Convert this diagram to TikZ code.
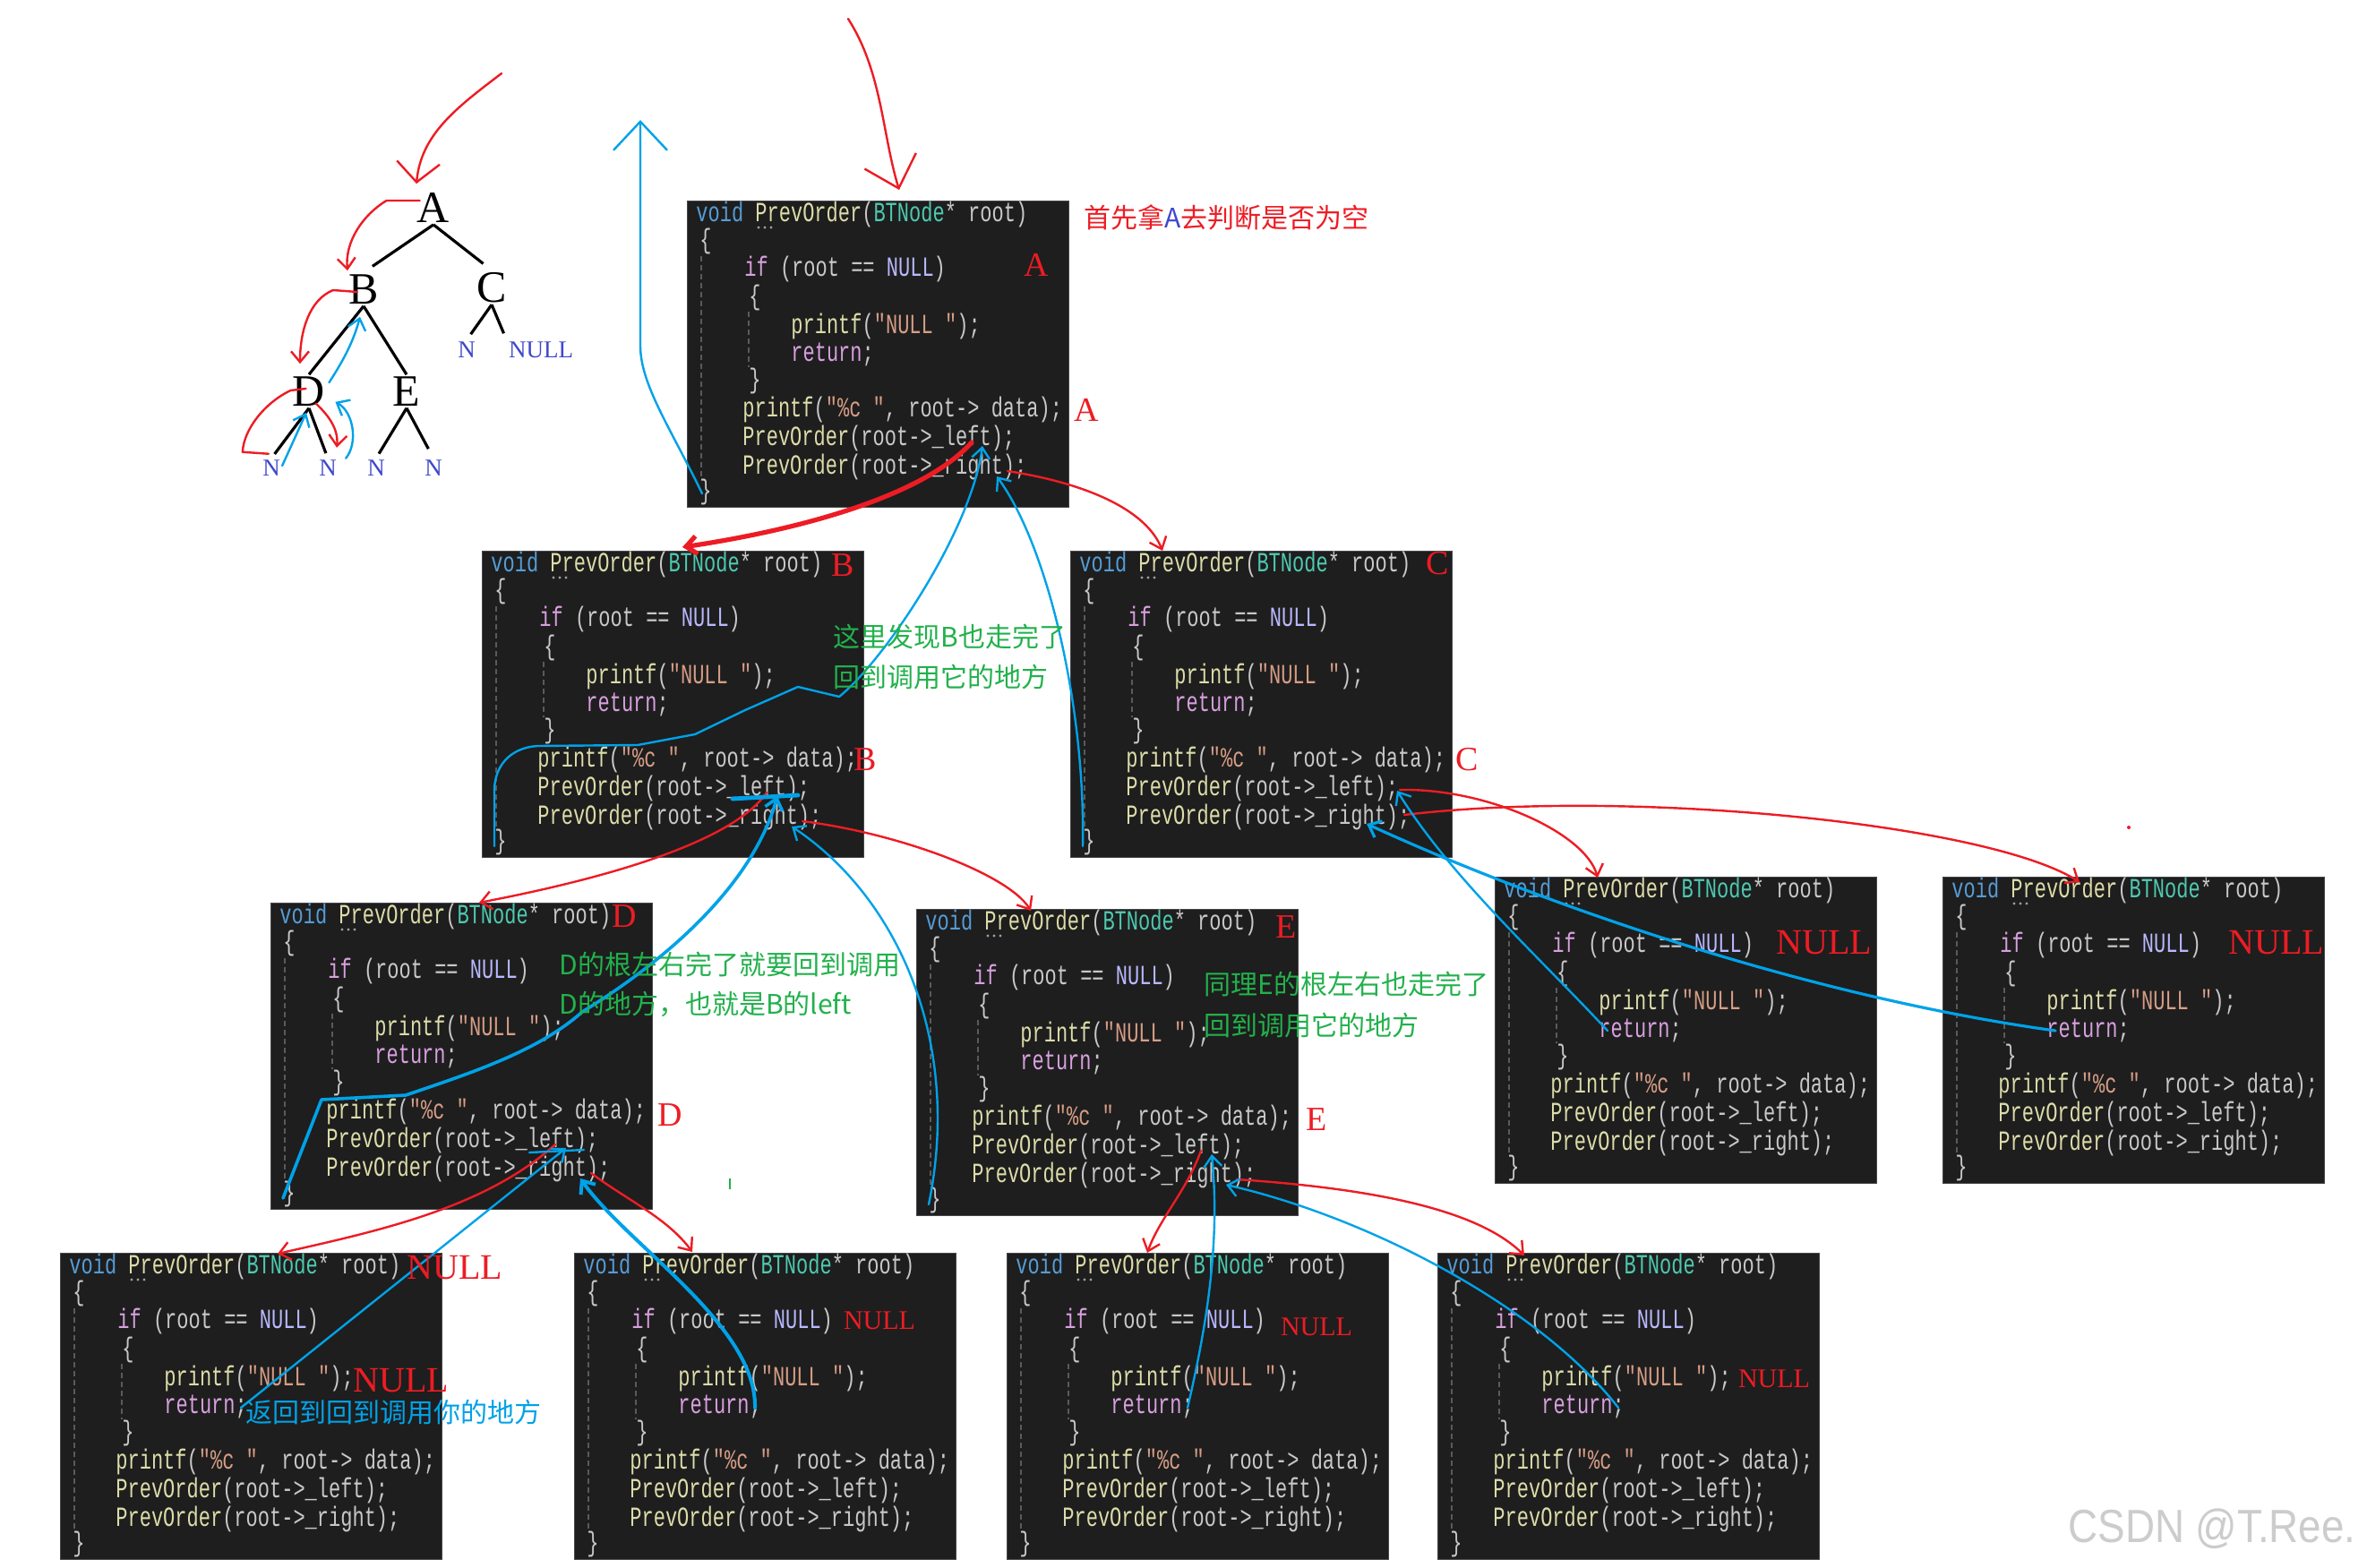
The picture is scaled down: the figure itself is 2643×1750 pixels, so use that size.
\documentclass[tikz,border=0pt]{standalone}
\usepackage{fontspec}
\setmainfont{Liberation Serif}
\newfontfamily\codefont[FakeStretch=0.71]{Liberation Mono}
\newfontfamily\cjk{Noto Sans CJK SC}
\newfontfamily\wmfont[FakeStretch=0.88]{Liberation Sans}
\usetikzlibrary{arrows.meta,calc}
\definecolor{codebg}{HTML}{1E1E1E}
\definecolor{boxedge}{HTML}{46464C}
\definecolor{guidegray}{HTML}{5A5A5A}
\definecolor{kwblue}{HTML}{569CD6}
\definecolor{fnyel}{HTML}{DCDCAA}
\definecolor{tyteal}{HTML}{4EC9B0}
\definecolor{plaintx}{HTML}{C8C8C8}
\definecolor{ctlpur}{HTML}{D8A0DF}
\definecolor{macnull}{HTML}{B8B8FF}
\definecolor{strbrn}{HTML}{D69D85}
\definecolor{penred}{HTML}{ED1C24}
\definecolor{penblue}{HTML}{00A2E8}
\definecolor{pengreen}{HTML}{22B14C}
\definecolor{inkblue}{HTML}{3F48CC}

% code lines of one call frame
\newcommand{\lnHead}{\textcolor{kwblue}{void} \textcolor{fnyel}{PrevOrder}(\textcolor{tyteal}{BTNode}* root)}
\newcommand{\lnIf}{\textcolor{ctlpur}{if} (root == \textcolor{macnull}{NULL})}
\newcommand{\lnNull}{\textcolor{fnyel}{printf}(\textcolor{strbrn}{"NULL "});}
\newcommand{\lnRet}{\textcolor{ctlpur}{return};}
\newcommand{\lnData}{\textcolor{fnyel}{printf}(\textcolor{strbrn}{"\%c "}, root-> data);}
\newcommand{\lnLeft}{\textcolor{fnyel}{PrevOrder}(root->\_left);}
\newcommand{\lnRight}{\textcolor{fnyel}{PrevOrder}(root->\_right);}

% one code box: name, x, y (top left corner, px)
\newcommand{\codebox}[3]{%
 \node[codebg] (#1) at (#2,#3) {};
 \begin{scope}[shift={(#1.north west)}]
  \draw[guide] (16,62) -- (16,312);
  \draw[guide] (69,124) -- (69,186);
  \foreach \dx in {80,87,94} \fill[gray!75] (\dx,30) circle (.8pt);
  \node[codeline] at (10,15) {\lnHead};
  \node[codeline] at (14,45) {\{};
  \node[codeline] at (64,76) {\lnIf};
  \node[codeline] at (69,108) {\{};
  \node[codeline] at (116,140) {\lnNull};
  \node[codeline] at (116,172) {\lnRet};
  \node[codeline] at (69,201) {\}};
  \node[codeline] at (62,233) {\lnData};
  \node[codeline] at (62,265) {\lnLeft};
  \node[codeline] at (62,297) {\lnRight};
  \node[codeline] at (14,325) {\}};
  \coordinate (#1-L) at (318,270);
  \coordinate (#1-Lb) at (330,274);
  \coordinate (#1-R) at (358,302);
  \coordinate (#1-Rb) at (346,308);
  \coordinate (#1-retS) at (126,172);
  \coordinate (#1-retE) at (202,173);
  \coordinate (#1-bl) at (14,330);
 \end{scope}}

\begin{document}
\begin{tikzpicture}[x=.5pt,y=-.5pt,
 codebg/.style={anchor=north west,fill=codebg,draw=boxedge,line width=.6pt,minimum width=213pt,minimum height=171pt,inner sep=0pt},
 codeline/.style={anchor=west,inner sep=0pt,text=plaintx,font=\fontsize{15.5}{16}\codefont},
 guide/.style={draw=guidegray,line width=.6pt,dash pattern=on 3pt off 2pt},
 penR/.style={draw=penred,line width=1.2pt,line cap=round,line join=round},
 penB/.style={draw=penblue,line width=1.2pt,line cap=round,line join=round},
 tip/.style={-{Straight Barb[length=6pt,width=10pt]}},
 midtip/.style={-{Straight Barb[length=11pt,width=24pt]}},
 bigtip/.style={-{Straight Barb[length=16pt,width=30pt]}},
 redmark/.style={text=penred,inner sep=0pt,font=\fontsize{19}{19}\selectfont},
 nullbig/.style={text=penred,inner sep=0pt,font=\fontsize{20}{20}\selectfont},
 nullsmall/.style={text=penred,inner sep=0pt,font=\fontsize{15}{15}\selectfont},
 note/.style={anchor=west,inner sep=0pt,font=\fontsize{15}{15}\cjk},
 treeletter/.style={inner sep=1pt,font=\fontsize{25}{25}\selectfont},
 treenull/.style={inner sep=1pt,text=inkblue,font=\fontsize{13.5}{13.5}\selectfont},
 treeedge/.style={line width=1.6pt},
 ]
\useasboundingbox (0,0) rectangle (2643,1750);
\fill[white] (0,0) rectangle (2643,1750);

% call frames
\foreach \bx/\bxx/\bxy in {boxA/767/224,boxB/538/615,boxC/1195/615,boxD/302/1008,boxE/1023/1015,
  boxCL/1669/979,boxCR/2169/979,boxDL/67/1399,boxDR/641/1399,boxEL/1124/1399,boxER/1605/1399}
 {\codebox{\bx}{\bxx}{\bxy}}

% tree
\node[treeletter] (tA) at (484,232) {A};
\node[treeletter] (tB) at (406,323) {B};
\node[treeletter] (tC) at (549,321) {C};
\node[treeletter] (tD) at (345,437) {D};
\node[treeletter] (tE) at (454,437) {E};
\node[treenull] (tN0) at (521,391) {N};
\node[treenull] (tNull) at (604,391) {NULL};
\node[treenull] (tN1) at (303,523) {N};
\node[treenull] (tN2) at (366,523) {N};
\node[treenull] (tN3) at (420,523) {N};
\node[treenull] (tN4) at (484,523) {N};
\draw[treeedge,shorten >=6pt] (tA.south) -- (tB.north);
\draw[treeedge,shorten >=6pt] (tA.south) -- (tC.north);
\draw[treeedge] (tB.south) -- (tD.north);
\draw[treeedge] (tB.south) -- (tE.north);
\draw[treeedge,shorten >=4pt] (tC.south) -- (tN0.north);
\draw[treeedge,shorten >=4pt] (tC.south) -- (tNull.north west);
\draw[treeedge,shorten >=3pt] (tD.south) -- (tN1.north);
\draw[treeedge,shorten >=3pt] (tD.south) -- (tN2.north);
\draw[treeedge,shorten >=3pt] (tE.south) -- (tN3.north);
\draw[treeedge,shorten >=6pt] (tE.south) -- (tN4.north);

% pen strokes on the tree
\coordinate (treein) at (560,82);
\draw[penR,midtip] (treein) .. controls (510,120) and (470,150) .. ($(tA.north)+(-19,-8)$);
\draw[penR,tip] ($(tA.west)+(5,-8)$) -- ++(-37,0) .. controls (405,240) and (385,270) .. ($(tB.north)+(-18,-2)$);
\draw[penR,tip] ($(tB.west)+(12,3)$) -- ++(-27,-2) .. controls (345,335) and (335,370) .. ($(tD.north)+(-10,-12)$);
\draw[penR] ($(tD.west)+(17,-3)$) -- ++(-17,2) .. controls (295,450) and (272,480) .. ($(tN1.north west)+(-20,-7)$) -- ++(29,2);
\draw[penR,tip] ($(tD.south)+(8,-5)$) .. controls (368,465) and (378,480) .. ($(tN2.north)+(10,-12)$);
\draw[penB,tip] ($(tD.north east)+(2,9)$) .. controls (385,400) and (395,380) .. ($(tB.south)+(-4,12)$);
\draw[penB,tip] ($(tN1.east)+(0,-3)$) -- ($(tD.south)+(-3,5)$);
\draw[penB,tip] ($(tN2.north east)+(8,0)$) .. controls (400,495) and (395,460) .. ($(tD.south east)+(9,-7)$);

% way in and way out
\coordinate (topin) at (947,21);
\coordinate (upA) at (715,134);
\draw[penR,bigtip] (topin) .. controls (985,80) and (985,150) .. ($(boxA.north west)+(237,-12)$);
\draw[penB,bigtip] ($(boxA.south west)+(17,-16)$) .. controls (750,480) and (715,430) .. (715,386) -- (upA);

% calls (red)
\draw[penR,line width=2.6pt,tip] (boxA-L) .. controls (1030,555) and (890,592) .. ($(boxB.north west)+(224,-4)$);
\draw[penR,tip] (boxA-R) .. controls (1215,540) and (1280,570) .. ($(boxC.north west)+(103,0)$);
\draw[penR,tip] (boxB-L) .. controls (815,945) and (655,985) .. ($(boxD.north west)+(233,0)$);
\draw[penR,tip] (boxB-R) .. controls (1000,930) and (1125,975) .. ($(boxE.north west)+(128,2)$);
\draw[penR,tip] ($(boxC-L)+(50,-3)$) .. controls (1660,880) and (1770,930) .. ($(boxCL.north west)+(115,1)$);
\draw[penR,tip] ($(boxC-R)+(15,-7)$) .. controls (1820,880) and (2220,920) .. ($(boxCR.north west)+(153,6)$);
\draw[penR,tip] (boxD-L) .. controls (540,1350) and (420,1375) .. ($(boxDL.north west)+(243,1)$);
\draw[penR,tip] (boxD-R) .. controls (700,1340) and (745,1360) .. ($(boxDR.north west)+(132,-1)$);
\draw[penR,tip] (boxE-L) .. controls (1325,1330) and (1295,1360) .. ($(boxEL.north west)+(157,0)$);
\draw[penR,tip] (boxE-R) .. controls (1530,1327) and (1650,1350) .. ($(boxER.north west)+(97,3)$);

% returns (blue)
\draw[penB,tip] (boxB-bl) -- (552,883) .. controls (552,855) and (570,835) .. (600,833) -- (712,832) -- (776,820)
  -- (832,793) -- (891,767) -- (937,778) .. controls (990,735) and (1085,590) .. (boxA-Lb);
\draw[penB,tip] (boxC-bl) .. controls (1212,790) and (1170,610) .. (boxA-Rb);
\draw[penB,tip] (boxE-bl) .. controls (1075,1160) and (1000,1000) .. (boxB-Rb);
\draw[penB,line width=1.8pt,tip] (boxD-bl) -- (359,1228) -- (453,1223) .. controls (520,1200) and (600,1175) .. (650,1130)
  .. controls (740,1075) and (840,990) .. (boxB-Lb);
\draw[penB,line width=2.4pt] ($(boxB-Lb)+(-50,3)$) -- ++(73,-4);
\draw[penB,tip] (boxCL-retS) .. controls (1720,1070) and (1620,980) .. ($(boxC-Lb)+(35,-6)$);
\draw[penB,line width=1.6pt,tip] (boxCR-retS) .. controls (2000,1110) and (1700,1000) .. ($(boxC-Rb)+(-15,-3)$);
\draw[penB,tip] (boxDL-retE) -- (boxD-Lb);
\draw[penB] ($(boxD-Lb)+(-41,5)$) -- ++(61,-3);
\draw[penB,line width=2pt,tip] (boxDR-retE) .. controls (845,1480) and (700,1390) .. (boxD-Rb);
\draw[penB,tip] (boxEL-retE) .. controls (1350,1470) and (1362,1380) .. (boxE-Lb);
\draw[penB,tip] (boxER-retE) .. controls (1720,1460) and (1530,1360) .. (boxE-Rb);

% red marks
\node[redmark] (mA1) at (1157,296) {A};
\node[redmark] (mA2) at (1213,458) {A};
\node[redmark] (mB1) at (941,631) {B};
\node[redmark] (mB2) at (966,848) {B};
\node[redmark] (mC1) at (1605,629) {C};
\node[redmark] (mC2) at (1638,848) {C};
\node[redmark] (mD1) at (697,1023) {D};
\node[redmark] (mD2) at (748,1245) {D};
\node[redmark] (mE1) at (1436,1035) {E};
\node[redmark] (mE2) at (1470,1250) {E};
\node[nullbig] (nCL) at (2037,1053) {NULL};
\node[nullbig] (nCR) at (2542,1053) {NULL};
\node[nullbig] (nDL1) at (508,1416) {NULL};
\node[nullbig] (nDL2) at (448,1542) {NULL};
\node[nullsmall] (nDR) at (982,1475) {NULL};
\node[nullsmall] (nEL) at (1470,1482) {NULL};
\node[nullsmall] (nER) at (1981,1540) {NULL};

% notes
\node[note,text=penred] (noteA) at (1210,243) {首先拿\textcolor{inkblue}{A}去判断是否为空};
\node[note,text=pengreen] (noteB1) at (930,711) {这里发现B也走完了};
\node[note,text=pengreen] (noteB2) at (930,756) {回到调用它的地方};
\node[note,text=pengreen] (noteD1) at (624,1077) {D的根左右完了就要回到调用};
\node[note,text=pengreen] (noteD2) at (624,1121) {D的地方，也就是B的left};
\node[note,text=pengreen] (noteE1) at (1344,1099) {同理E的根左右也走完了};
\node[note,text=pengreen] (noteE2) at (1344,1145) {回到调用它的地方};
\node[note,text=penblue] (noteRet) at (274,1577) {返回到回到调用你的地方};

% stray marks
\draw[pengreen,line width=1.2pt] (815,1316) -- (815,1328);
\fill[penred] (2377,924) circle (1pt);

\node[inner sep=0pt,text=gray!40,font=\fontsize{26}{26}\wmfont] (wm) at (2470,1707) {CSDN @T.Ree.};
\end{tikzpicture}
\end{document}
